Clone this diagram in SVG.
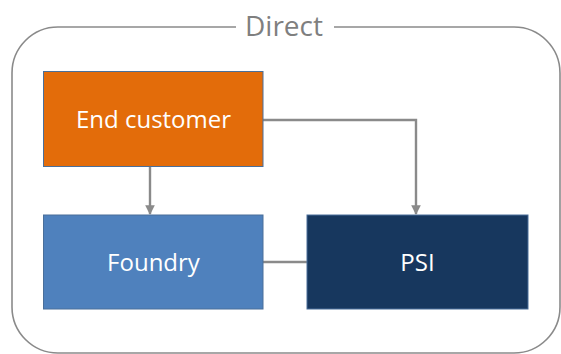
<svg xmlns="http://www.w3.org/2000/svg" width="561" height="354" viewBox="0 0 561 354">
  <defs>
    <style>
      .frame { fill: none; stroke: #8a8a8a; stroke-width: 1.6; }
      .node rect { stroke: #4a6f9a; stroke-width: 1; }
      .label { font-family: "Open Sans", "Liberation Sans", sans-serif; fill: #ffffff; font-size: 24px; text-anchor: middle; }
      .title { font-family: "Open Sans", "Liberation Sans", sans-serif; fill: #7f7f7f; font-size: 28px; text-anchor: middle; }
      .conn { fill: none; stroke: #8a8a8a; stroke-width: 2.4; }
    </style>
    <marker id="arrow" viewBox="0 0 10 10" refX="9" refY="5" markerWidth="4" markerHeight="4" orient="auto" markerUnits="strokeWidth">
      <path d="M0,0 L10,5 L0,10 z" fill="#8a8a8a"/>
    </marker>
  </defs>

  <rect width="561" height="354" fill="#ffffff"/>

  <!-- group frame -->
  <g id="group-direct">
    <rect class="frame" x="12" y="27" width="548" height="326" rx="46" ry="46"/>
    <rect x="236" y="0" width="98" height="52" fill="#ffffff"/>
    <text class="title" x="284" y="36">Direct</text>
  </g>

  <!-- connectors -->
  <g id="connectors">
    <path class="conn" d="M150,167 L150,214" marker-end="url(#arrow)"/>
    <path class="conn" d="M263,120 L416,120 L416,214" marker-end="url(#arrow)"/>
    <path class="conn" d="M263,262 L307,262"/>
  </g>

  <g id="end-customer" class="node">
    <rect x="43.5" y="71.5" width="219.5" height="95" fill="#e36c0a"/>
    <text class="label" x="153.5" y="128">End customer</text>
  </g>

  <g id="foundry" class="node">
    <rect x="43.5" y="215" width="219.5" height="94" fill="#4f81bd"/>
    <text class="label" x="153.5" y="271">Foundry</text>
  </g>

  <g id="psi" class="node">
    <rect x="307" y="215" width="221" height="94" fill="#17375e"/>
    <text class="label" x="417.5" y="271">PSI</text>
  </g>
</svg>
